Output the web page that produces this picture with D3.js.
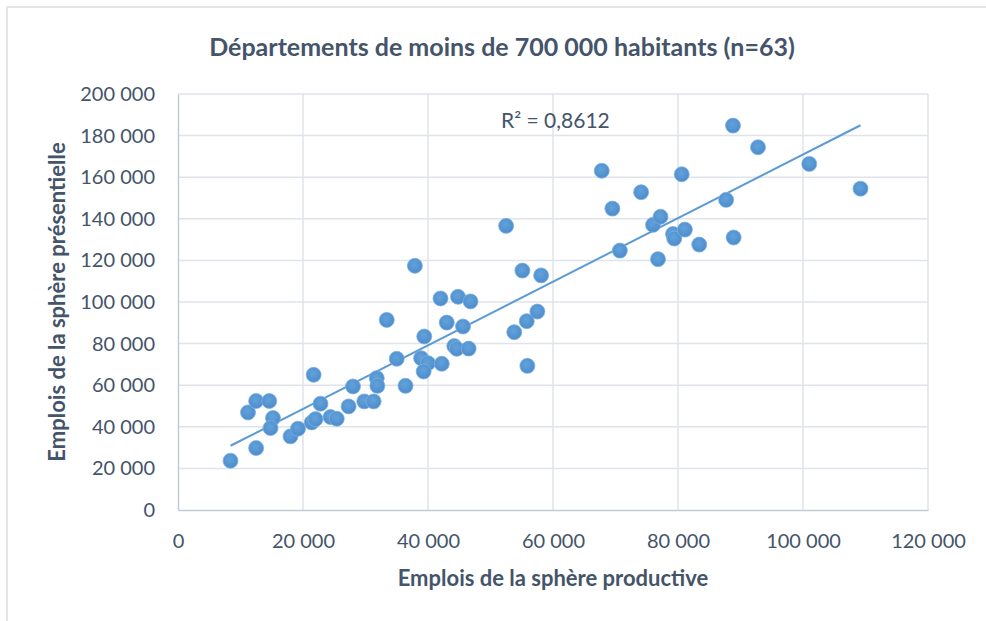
<!DOCTYPE html>
<html>
<head>
<meta charset="utf-8">
<script src="https://cdn.jsdelivr.net/npm/d3@7"></script>
<style>
  body { margin: 0; background: #fff; }
  text { font-family: Lato, "Open Sans", sans-serif; fill: #44546a; }
</style>
</head>
<body>
<div id="chart"></div>
<script>
// Emplois de la sphère productive (x) / présentielle (y), one point per département
const productive = [
    8400, 12500, 11200, 12500, 14600, 15200, 14800, 18000, 19200, 21700,
    21400, 22000, 22800, 24400, 25400, 27300, 28000, 29800, 31300, 31800,
    31900, 33400, 36400, 35000, 39400, 38900, 40000, 39300, 42200, 42000,
    44800, 46800, 43000, 45600, 44200, 44600, 46500, 37900, 53800, 55800,
    57500, 55900, 58100, 52500, 55100, 67800, 69500, 70700, 74100, 76000,
    77200, 76800, 79200, 79400, 81100, 80600, 83400, 87700, 88900, 88800,
    92800, 101000, 109200
];
const presentielle = [
    23700, 29800, 46900, 52400, 52400, 44200, 39400, 35400, 39100, 65000,
    42100, 43700, 51100, 44700, 43900, 49800, 59400, 52200, 52200, 63400,
    59700, 91400, 59700, 72700, 83400, 73000, 70600, 66600, 70300, 101700,
    102500, 100300, 90100, 88200, 78800, 77500, 77600, 117400, 85500, 90800,
    95400, 69300, 112800, 136600, 115100, 163100, 144900, 124700, 152800, 137100,
    141000, 120600, 132700, 130500, 134800, 161400, 127600, 149100, 131000, 184800,
    174400, 166400, 154500
];
const xTicks = [0, 20000, 40000, 60000, 80000, 100000, 120000];
const yTicks = [0, 20000, 40000, 60000, 80000, 100000, 120000, 140000, 160000, 180000, 200000];

const chartTitle = 'Départements de moins de 700 000 habitants (n=63)';
const xTitle = 'Emplois de la sphère productive';
const yTitle = 'Emplois de la sphère présentielle';
const r2Label = 'R² = 0,8612'; // as printed on the original chart

class ScatterChart {
    constructor(_config, _data) {
        this.config = {
            parentElement: _config.parentElement,
            containerWidth: _config.containerWidth || 986,
            containerHeight: _config.containerHeight || 621,
            margin: _config.margin || {top: 94, right: 58, bottom: 111, left: 178}
        };
        this.data = _data;
        this.initVis();
    }

    initVis() {
        let vis = this;

        vis.width = vis.config.containerWidth - vis.config.margin.left - vis.config.margin.right;
        vis.height = vis.config.containerHeight - vis.config.margin.top - vis.config.margin.bottom;

        vis.svg = d3.select(vis.config.parentElement)
            .append('svg')
            .attr('width', vis.config.containerWidth)
            .attr('height', vis.config.containerHeight);

        // chart area frame (only left and top edges are visible)
        vis.svg.append('path')
            .attr('d', `M7,${vis.config.containerHeight} V7 H${vis.config.containerWidth}`)
            .attr('fill', 'none')
            .attr('stroke', '#d9dde4')
            .attr('stroke-width', 1.5);

        vis.chart = vis.svg.append('g')
            .attr('transform', `translate(${vis.config.margin.left},${vis.config.margin.top})`);

        vis.xScale = d3.scaleLinear()
            .domain([0, 120000])
            .range([0, vis.width]);

        vis.yScale = d3.scaleLinear()
            .domain([0, 200000])
            .range([vis.height, 0]);

        const fmt = d => d3.format(',')(d).replace(/,/g, ' ');

        vis.xAxis = d3.axisBottom(vis.xScale)
            .tickValues(xTicks)
            .tickFormat(fmt)
            .tickSize(0)
            .tickPadding(24);

        vis.yAxis = d3.axisLeft(vis.yScale)
            .tickValues(yTicks)
            .tickFormat(fmt)
            .tickSize(0)
            .tickPadding(23);
    }

    updateVis() {
        let vis = this;
        vis.points = vis.data.x.map((x, i) => ({x: x, y: vis.data.y[i]}));

        // least squares trend line
        const mx = d3.mean(vis.points, d => d.x);
        const my = d3.mean(vis.points, d => d.y);
        const sxy = d3.sum(vis.points, d => (d.x - mx) * (d.y - my));
        const sxx = d3.sum(vis.points, d => (d.x - mx) * (d.x - mx));
        vis.slope = sxy / sxx;
        vis.intercept = my - vis.slope * mx;
        const xExt = d3.extent(vis.points, d => d.x);
        vis.trend = xExt.map(x => ({x: x, y: vis.intercept + vis.slope * x}));

        vis.renderVis();
    }

    renderVis() {
        let vis = this;

        // grid
        vis.chart.append('g').selectAll('line.hgrid')
            .data(yTicks.slice(1))
          .enter().append('line')
            .attr('x1', 0).attr('x2', vis.width)
            .attr('y1', d => vis.yScale(d)).attr('y2', d => vis.yScale(d))
            .attr('stroke', '#dfe3ea').attr('stroke-width', 1.5);
        vis.chart.append('g').selectAll('line.vgrid')
            .data(xTicks.slice(1))
          .enter().append('line')
            .attr('x1', d => vis.xScale(d)).attr('x2', d => vis.xScale(d))
            .attr('y1', 0).attr('y2', vis.height)
            .attr('stroke', '#dfe3ea').attr('stroke-width', 1.5);

        // axes
        vis.chart.append('g')
            .attr('class', 'x axis')
            .attr('transform', 'translate(0,' + vis.height + ')')
            .call(vis.xAxis);
        vis.chart.append('g')
            .attr('class', 'y axis')
            .call(vis.yAxis);

        vis.chart.selectAll('.axis .domain')
            .attr('stroke', '#c3cad6').attr('stroke-width', 1.5);
        vis.chart.selectAll('.axis text')
            .style('font-size', '20px')
            .style('font-family', 'Lato, sans-serif')
            .attr('fill', '#44546a');

        // trend line
        vis.chart.append('path')
            .datum(vis.trend)
            .attr('fill', 'none')
            .attr('stroke', '#5b9bd5')
            .attr('stroke-width', 2)
            .attr('d', d3.line().x(d => vis.xScale(d.x)).y(d => vis.yScale(d.y)));

        // points
        const defs = vis.svg.append('defs');
        const grad = defs.append('radialGradient')
            .attr('id', 'dotFill')
            .attr('cx', '45%').attr('cy', '40%').attr('r', '60%');
        grad.append('stop').attr('offset', '0%').attr('stop-color', '#62a2db');
        grad.append('stop').attr('offset', '100%').attr('stop-color', '#4d8ccb');

        vis.chart.append('g').selectAll('circle')
            .data(vis.points)
          .enter().append('circle')
            .attr('cx', d => vis.xScale(d.x))
            .attr('cy', d => vis.yScale(d.y))
            .attr('r', 7.5)
            .attr('fill', 'url(#dotFill)')
            .attr('stroke', '#7eb1e2')
            .attr('stroke-width', 0.8);

        // R² label
        vis.chart.append('text')
            .attr('x', 323)
            .attr('y', 34)
            .style('font-size', '21px')
            .text(r2Label);

        // titles
        vis.svg.append('text')
            .attr('x', 502)
            .attr('y', 56)
            .attr('text-anchor', 'middle')
            .style('font-size', '25px')
            .style('font-weight', 'bold')
            .text(chartTitle);

        vis.svg.append('text')
            .attr('x', vis.config.margin.left + vis.width / 2)
            .attr('y', 586)
            .attr('text-anchor', 'middle')
            .style('font-size', '22px')
            .style('font-weight', 'bold')
            .text(xTitle);

        vis.svg.append('text')
            .attr('transform', 'translate(65,302) rotate(-90)')
            .attr('text-anchor', 'middle')
            .style('font-size', '22px')
            .style('font-weight', 'bold')
            .text(yTitle);
    }
}

const scatter = new ScatterChart({parentElement: '#chart'}, {x: productive, y: presentielle});
scatter.updateVis();
</script>
</body>
</html>
